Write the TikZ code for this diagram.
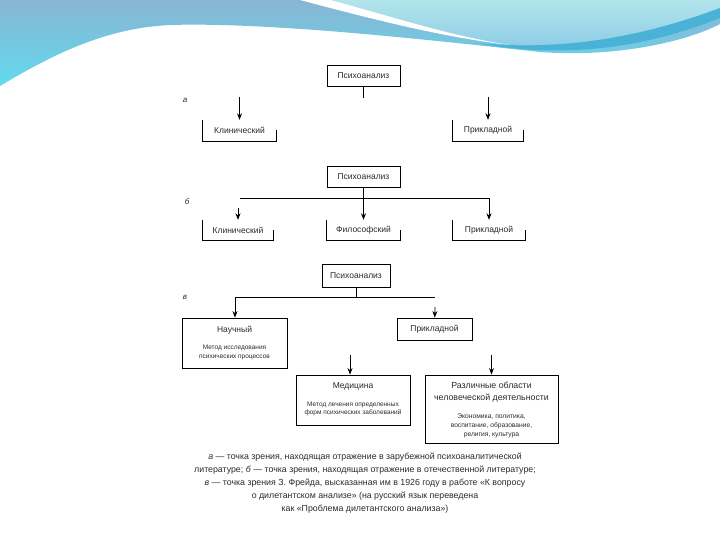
\documentclass[tikz,border=0pt]{standalone}
\usepackage{fontspec}
\setmainfont{Liberation Sans}
\usetikzlibrary{positioning,arrows.meta}
\definecolor{bandtop}{HTML}{88B5D3}
\definecolor{bandbot}{HTML}{62DAEE}
\definecolor{lighttop}{HTML}{B2E5EB}
\definecolor{lightbot}{HTML}{8CCBE6}
\definecolor{stripe}{HTML}{4AB2D6}
\definecolor{ink}{HTML}{2A2A2A}

\begin{document}
\begin{tikzpicture}[x=1pt,y=-1pt,>={Stealth[length=6.5pt,width=5pt]}]
\tikzstyle{every node}=[font=\fontsize{8.5}{10}\selectfont,text=ink,inner sep=0pt]
\tikzstyle{box}=[draw=black,line width=0.8pt,minimum height=21pt]
\tikzstyle{open}=[minimum height=21pt]
\tikzstyle{line}=[black,line width=0.8pt]
\tikzstyle{sub}=[font=\fontsize{6.5}{8.5}\selectfont,align=center]
\useasboundingbox (0,0) rectangle (720,540);
% background band
\shade[top color=bandtop,bottom color=bandbot] (0,0) -- (0,86)
  .. controls (60,50) and (110,28) .. (170,25)
  .. controls (270,22) and (430,40) .. (540,52)
  .. controls (620,58) and (690,40) .. (720,24) -- (720,0) -- cycle;
\shade[top color=lighttop,bottom color=lightbot] (315,0)
  .. controls (390,22) and (450,36) .. (505,44)
  .. controls (580,50) and (660,34) .. (720,8) -- (720,0) -- cycle;
\fill[white] (300,0) .. controls (390,24) and (450,38) .. (510,45)
  .. controls (450,36) and (390,16) .. (330,0) -- cycle;
\fill[stripe] (475,43) .. controls (570,52) and (650,34) .. (720,8) -- (720,18)
  .. controls (650,46) and (570,60) .. (475,43) -- cycle;

% a
\node[box,minimum width=73pt] (pa) at (363.5,76) {Психоанализ};
\node[open,minimum width=73pt] (ka) at (239.5,130.5) {Клинический};
\node[open,minimum width=70pt] (pra) at (488,130.5) {Прикладной};
\node[font=\fontsize{8}{9}\selectfont\itshape] (la) at (185,100) {а};
\draw[line] (ka.north west) |- (ka.south east) -- (ka.east);
\draw[line] (pra.north west) |- (pra.south east) -- (pra.east);
\coordinate (ta) at (363.5,98);
\draw[line] (pa) -- (ta);
\draw[line,->] (239.5,97) -- (ka);
\draw[line,->] (488,97) -- (pra);

% b
\node[box,minimum width=73pt] (pb) at (363.5,176.5) {Психоанализ};
\node[open,minimum width=70pt,minimum height=20pt] (kb) at (238,230) {Клинический};
\node[open,minimum width=73pt,minimum height=20pt] (fb) at (363.5,230) {Философский};
\node[open,minimum width=72pt,minimum height=20pt] (prb) at (489,230) {Прикладной};
\node[font=\fontsize{8}{9}\selectfont\itshape] (lb) at (187,202) {б};
\foreach \n in {kb,fb,prb}
  \draw[line] (\n.north west) |- (\n.south east) -- (\n.east);
\coordinate (hb1) at (240,198);
\coordinate (hb2) at (489,198);
\coordinate (sb) at (238,208);
\draw[line] (hb1) -- (hb2);
\draw[line,->] (hb2) -- (prb);
\draw[line,->] (pb) -- (fb);
\draw[line,->] (sb) -- (kb);

% v
\node[box,minimum width=68pt,minimum height=23pt] (pv) at (356,275.5) {Психоанализ};
\node[font=\fontsize{8}{9}\selectfont\itshape] (lv) at (185,297) {в};
\node[box,minimum width=105pt,minimum height=50pt] (nv) at (234.5,343) {};
\node[below=8pt of nv.north] (nvt) {Научный};
\node[sub,below=11pt of nvt] (nvs) {Метод исследования\\психических процессов};
\node[box,minimum width=75pt,minimum height=22pt] (prv) at (434.5,329) {Прикладной};
\node[box,minimum width=114pt,minimum height=50pt] (mv) at (353,400) {};
\node[below=8pt of mv.north] (mvt) {Медицина};
\node[sub,below=11pt of mvt] (mvs) {Метод лечения определенных\\форм психических заболеваний};
\node[box,minimum width=133pt,minimum height=68pt] (rv) at (491.5,409) {};
\node[below=7pt of rv.north,align=center,font=\fontsize{8.8}{12}\selectfont] (rvt)
  {Различные области\\человеческой деятельности};
\node[sub,below=11pt of rvt,font=\fontsize{6.7}{9}\selectfont] (rvs)
  {Экономика, политика,\\воспитание, образование,\\религия, культура};
\coordinate (tv) at (pv.south |- 0,297);
\coordinate (hv1) at (235,297);
\coordinate (hv2) at (435,297);
\coordinate (sv) at (435,307);
\coordinate (sm) at (350,355);
\coordinate (sr) at (491.5,355);
\draw[line] (pv) -- (tv);
\draw[line] (hv1) -- (hv2);
\draw[line,->] (hv1) -- (nv.north -| hv1);
\draw[line,->] (sv) -- (prv);
\draw[line,->] (sm) -- (mv.north -| sm);
\draw[line,->] (sr) -- (rv);

% caption
\node[align=center,font=\fontsize{8.8}{13}\selectfont] (cap) at (365,483)
  {\textit{а} — точка зрения, находящая отражение в зарубежной психоаналитической\\
   литературе; \textit{б} — точка зрения, находящая отражение в отечественной литературе;\\
   \textit{в} — точка зрения З. Фрейда, высказанная им в 1926 году в работе «К вопросу\\
   о дилетантском анализе» (на русский язык переведена\\
   как «Проблема дилетантского анализа»)};
\end{tikzpicture}
\end{document}
